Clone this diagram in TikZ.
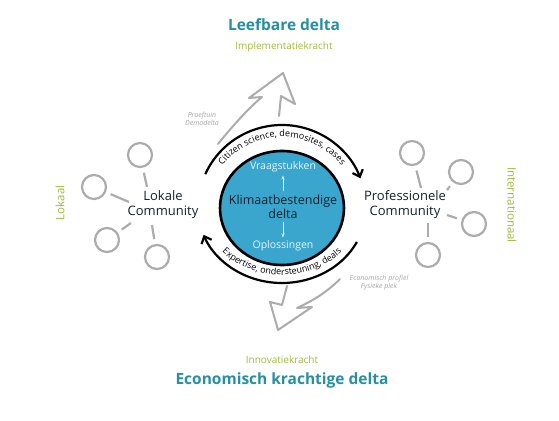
\documentclass[tikz,border=0pt]{standalone}
\usepackage{fontspec}
\setmainfont{Open Sans}
\usetikzlibrary{arrows.meta, positioning, shapes.geometric, decorations.text}
\definecolor{deltateal}{RGB}{38,143,163}
\definecolor{krachtgreen}{RGB}{162,186,62}
\definecolor{hubblue}{RGB}{58,166,206}
\definecolor{satgray}{RGB}{172,172,172}
\definecolor{notegray}{RGB}{168,168,168}
\definecolor{inkdark}{RGB}{22,32,44}
\definecolor{paleblue}{RGB}{228,246,252}
\newcommand{\arcfont}{\fontsize{9}{10}\selectfont}

\begin{document}
\begin{tikzpicture}[x=1pt, y=1pt,
  title/.style={font=\fontsize{15.5}{18}\selectfont\bfseries, text=deltateal, inner sep=1pt},
  kracht/.style={font=\fontsize{10}{12}\selectfont, text=krachtgreen, inner sep=1pt},
  reach/.style={font=\fontsize{11.5}{13}\selectfont, text=krachtgreen, inner sep=1pt},
  community/.style={align=center, font=\fontsize{13}{15}\selectfont, text=inkdark, inner sep=1pt},
  note/.style={align=center, font=\fontsize{7}{8}\selectfont\itshape, text=notegray, inner sep=0pt},
  sat/.style={circle, draw=satgray, line width=2.2pt, minimum size=24pt, inner sep=0pt},
  spoke/.style={draw=satgray, line width=2.2pt, shorten <=5pt},
  hub/.style={ellipse, draw=black, line width=2.6pt, fill=hubblue, minimum width=124pt, minimum height=114pt},
  hubtext/.style={align=center, font=\fontsize{12.5}{14}\selectfont, text=inkdark, inner sep=1pt},
  pole/.style={font=\fontsize{10.5}{12}\selectfont, text=paleblue, inner sep=1pt},
  innerarrow/.style={-{Stealth[length=4pt]}, line width=1pt, paleblue, shorten <=2pt, shorten >=2pt},
  cyclearrow/.style={-{Straight Barb[length=6pt, width=11pt]}, line width=2.2pt, black},
  bigarrow/.style={draw=satgray, line width=2pt, line join=round, line cap=round},
]
  \useasboundingbox[fill=white] (0,0) rectangle (559,420);

  % titles
  \node[title] (leef) at (284,395) {Leefbare delta};
  \node[kracht] (impl) at (284,373) {Implementatiekracht};
  \node[kracht] (innov) at (282,60) {Innovatiekracht};
  \node[title] (econ) at (282,40) {Economisch krachtige delta};
  \node[reach, rotate=90] (lokaal) at (60,217) {Lokaal};
  \node[reach, rotate=-90] (inter) at (512,215) {Internationaal};

  % core
  \node[hub] (core) at (282,212) {};
  \node[hubtext] (klimaat) at (283,213.5) {Klimaatbestendige\\delta};
  \node[pole, above=20pt of klimaat] (vraag) {Vraagstukken};
  \node[pole, below=20pt of klimaat] (oplos) {Oplossingen};
  \draw[innerarrow] (klimaat) -- (vraag);
  \draw[innerarrow] (klimaat) -- (oplos);

  % cycle
  \draw[cyclearrow] ([shift={(156:84 and 83)}]core.center) arc[start angle=156, end angle=21, x radius=84, y radius=83];
  \draw[cyclearrow] ([shift={(-27:84 and 75)}]core.center) arc[start angle=-27, end angle=-159, x radius=84, y radius=75];
  \path[decorate, decoration={text along path, text align=center, text={|\arcfont|Citizen science, demosites, cases}}]
    ([shift={(165:74 and 71)}]core.center) arc[start angle=165, end angle=15, x radius=74, y radius=71];
  \path[decorate, decoration={text along path, text align=center, text={|\arcfont|Expertise, ondersteuning, deals}}]
    ([shift={(-165:79 and 67)}]core.center) arc[start angle=-165, end angle=-15, x radius=79, y radius=67];

  % communities
  \node[community] (lc) at (163,215) {Lokale\\Community};
  \node[community] (pc) at (405,215) {Professionele\\Community};
  \foreach \n/\sx/\sy/\ex/\ey in {1/140/265/147/233, 2/94/233/129/218, 3/107/180/131/197, 4/157/163/152/195} {
    \node[sat] (ls\n) at (\sx,\sy) {};
    \coordinate (le\n) at (\ex,\ey);
    \draw[spoke] (ls\n) -- (le\n);
  }
  \foreach \n/\sx/\sy/\ex/\ey in {1/412/267/421/232, 2/461/248/447/230, 3/474/196/447/205, 4/428/165/428/197} {
    \node[sat] (ps\n) at (\sx,\sy) {};
    \coordinate (pe\n) at (\ex,\ey);
    \draw[spoke] (ps\n) -- (pe\n);
  }

  % big arrows
  \draw[bigarrow] (218,276) .. controls (235,297) and (250,313) .. (262,323) -- (249,322) -- (283,347) -- (295,316) -- (281,324) -- (279,304);
  \draw[bigarrow] (340,141) .. controls (325,126) and (310,118) .. (297,112) -- (312,113) -- (278,90) -- (270,118) -- (282,115) -- (287,134);
  \node[note] (proef) at (202,301) {Proeftuin\\Demodelta};
  \node[note] (profiel) at (379,137) {Economisch profiel\\Fysieke plek};
\end{tikzpicture}
\end{document}
